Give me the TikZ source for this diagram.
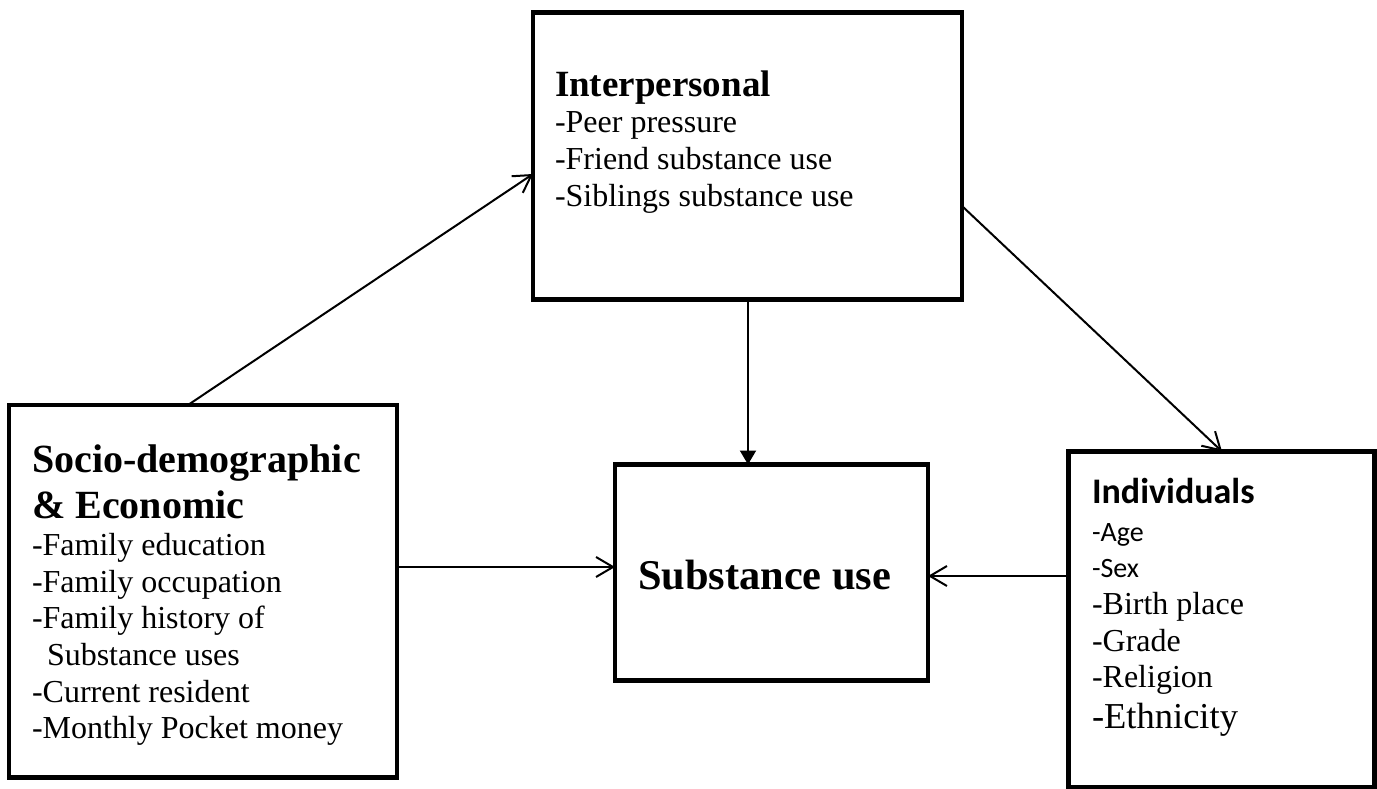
\documentclass[tikz,border=0pt]{standalone}
\usepackage{fontspec}
\setmainfont{Liberation Serif}
\newfontfamily\calib{Carlito}
\usetikzlibrary{arrows.meta}
\begin{document}
\begin{tikzpicture}[x=1pt,y=-1pt,
  box/.style={draw,line width=4.6pt,rectangle,inner sep=0pt,outer sep=0pt,anchor=north west},
  txt/.style={anchor=base west,inner sep=0pt,outer sep=0pt},
  body/.style={txt,font=\fontsize{32}{36}\selectfont},
  conn/.style={line width=2pt},
  openarrow/.style={conn,-{Straight Barb[length=17pt,width=20pt,line width=2pt]}},
  fillarrow/.style={conn,-{Triangle[length=14pt,width=16pt]}}
]
\useasboundingbox (0,0) rectangle (1377,789);

% boxes
\node[box,minimum width=429pt,minimum height=287pt] (intp) at (533,12.5) {};
\node[box,minimum width=388pt,minimum height=372.5pt] (socio) at (9,405) {};
\node[box,minimum width=313pt,minimum height=216pt] (subst) at (615,464.5) {};
\node[box,minimum width=306pt,minimum height=335.5pt] (indiv) at (1068.5,451.5) {};

% Interpersonal text
\node[txt,font=\fontsize{37}{40}\selectfont\bfseries] (intpH) at (555,97) {Interpersonal};
\node[body] (intp1) at (555,133) {-Peer pressure};
\node[body] (intp2) at (555,170) {-Friend substance use};
\node[body] (intp3) at (555,207) {-Siblings substance use};

% Socio text
\node[txt,font=\fontsize{40}{44}\selectfont\bfseries] (socioH1) at (32,472) {Socio-demographic};
\node[txt,font=\fontsize{40}{44}\selectfont\bfseries] (socioH2) at (32,518) {\& Economic};
\node[body] (socio1) at (32,555) {-Family education};
\node[body] (socio2) at (32,592) {-Family occupation};
\node[body] (socio3) at (32,628) {-Family history of};
\node[body] (socio4) at (47,665) {Substance uses};
\node[body] (socio5) at (32,702) {-Current resident};
\node[body] (socio6) at (32,738) {-Monthly Pocket money};

% Substance use text
\node[txt,font=\fontsize{42.4}{46}\selectfont\bfseries] (substT) at (638,589) {Substance use};

% Individuals text
\node[txt,font=\fontsize{36}{40}\selectfont\calib\bfseries] (indivH) at (1092,503) {Individuals};
\node[txt,font=\fontsize{28}{32}\selectfont\calib] (indiv1) at (1092,541) {-Age};
\node[txt,font=\fontsize{28}{32}\selectfont\calib] (indiv2) at (1092,577) {-Sex};
\node[body] (indiv3) at (1092,614) {-Birth place};
\node[body] (indiv4) at (1092,651) {-Grade};
\node[body] (indiv5) at (1092,687) {-Religion};
\node[txt,font=\fontsize{36.5}{40}\selectfont] (indiv6) at (1092,728) {-Ethnicity};

% connectors
\coordinate (a1) at ([xshift=179pt]socio.north west);
\coordinate (a1e) at ([yshift=-161.5pt]intp.north west);
\draw[openarrow] (a1) -- (a1e);

\coordinate (a2) at ([xshift=215pt]intp.south west);
\draw[fillarrow] (a2) -- (a2 |- subst.north);

\coordinate (a3) at ([yshift=-193.5pt]intp.north east);
\coordinate (a3e) at ([xshift=153.5pt]indiv.north west);
\draw[openarrow] (a3) -- (a3e);

\coordinate (a4) at ([yshift=-162pt]socio.north east);
\draw[openarrow] (a4) -- (a4 -| subst.west);

\coordinate (a5) at ([yshift=-124.5pt]indiv.north west);
\draw[openarrow] (a5) -- (a5 -| subst.east);
\end{tikzpicture}
\end{document}
